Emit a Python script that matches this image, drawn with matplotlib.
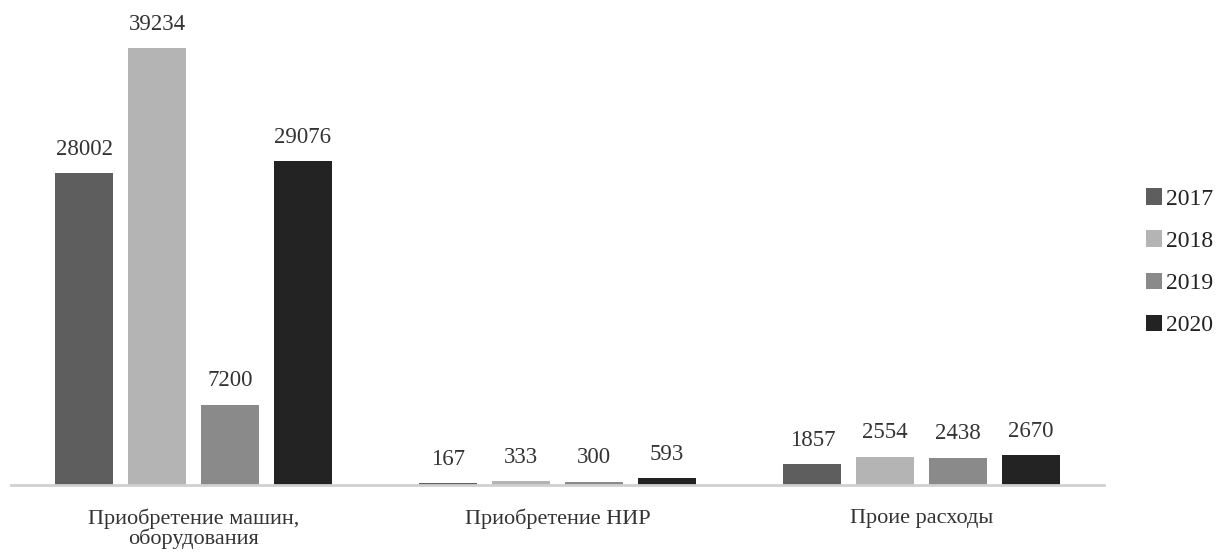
import matplotlib.pyplot as plt
import numpy as np

categories = ["Приобретение машин,\nоборудования", "Приобретение НИР", "Проие расходы"]
years = ["2017", "2018", "2019", "2020"]
values_2017 = [28002, 167, 1857]
values_2018 = [39234, 333, 2554]
values_2019 = [7200, 300, 2438]
values_2020 = [29076, 593, 2670]

series = [values_2017, values_2018, values_2019, values_2020]
colors = ["#5e5e5e", "#b4b4b4", "#8a8a8a", "#232323"]

plt.rcParams['font.family'] = ['Liberation Serif', 'DejaVu Serif']

fig = plt.figure(figsize=(12.21, 5.53), dpi=100)
ax = fig.add_axes([0.0094, 0.123, 0.8944, 0.8056])

x = np.arange(len(categories))
offsets = [-0.3, -0.1, 0.1, 0.3]
width = 0.16

for vals, off, col, yr in zip(series, offsets, colors, years):
    bars = ax.bar(x + off, vals, width, color=col, label=yr, zorder=2)
    for b, v in zip(bars, vals):
        ax.text(b.get_x() + b.get_width() / 2, v + 1200, str(v),
                ha='center', va='bottom', fontsize=16.5, color='#333333',
                clip_on=False)

ax.set_xlim(-0.5, 2.5)
ax.set_ylim(0, 40000)
ax.set_yticks([])
ax.set_xticks(x)
ax.set_xticklabels(categories, fontsize=16, color='#333333', linespacing=0.95)
ax.tick_params(axis='x', length=0, pad=17)

for s in ['top', 'right', 'left']:
    ax.spines[s].set_visible(False)
ax.spines['bottom'].set_color('#d0d0d0')
ax.spines['bottom'].set_linewidth(2)

leg = ax.legend(loc='center left', bbox_to_anchor=(1.019, 0.50), frameon=False,
                fontsize=17, handlelength=0.7, handleheight=0.7,
                handletextpad=0.15, labelspacing=0.88)
for t in leg.get_texts():
    t.set_color('#222222')

fig.savefig("out.png", dpi=100)
